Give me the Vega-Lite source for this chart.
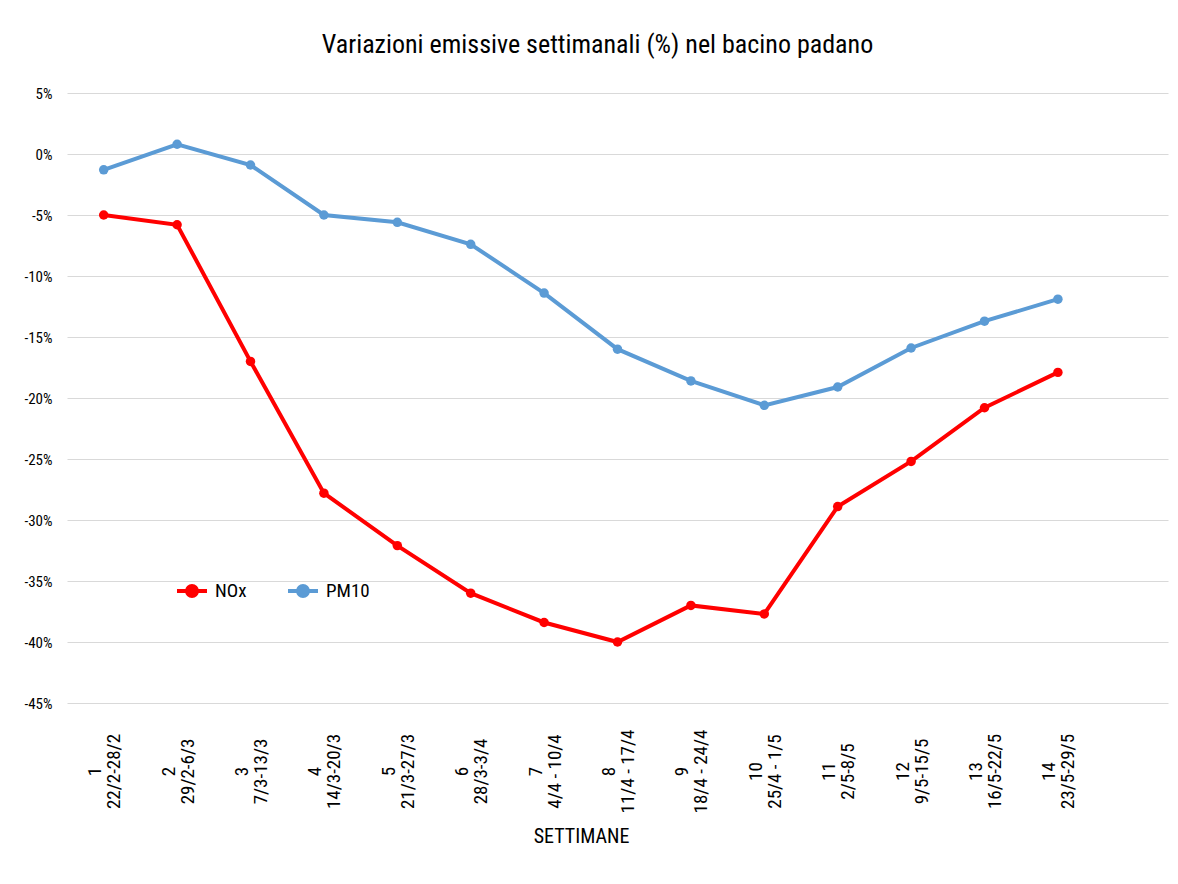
{
  "$schema": "https://vega.github.io/schema/vega-lite/v6.json",
  "width": 1101,
  "height": 610,
  "autosize": {"type": "none"},
  "padding": {"left": 67, "top": 93, "right": 10, "bottom": 181},
  "background": "white",
  "title": {
    "text": "Variazioni emissive settimanali (%) nel bacino padano",
    "fontSize": 26,
    "font": "Liberation Sans Narrow, Roboto Condensed, Open Sans",
    "fontWeight": "normal",
    "color": "#000000",
    "anchor": "middle",
    "dx": -20,
    "offset": 28
  },
  "data": {
    "values": [
      {"settimana": "1|22/2-28/2", "serie": "NOx", "valore": -5.0},
      {"settimana": "2|29/2-6/3", "serie": "NOx", "valore": -5.8},
      {"settimana": "3|7/3-13/3", "serie": "NOx", "valore": -17.0},
      {"settimana": "4|14/3-20/3", "serie": "NOx", "valore": -27.8},
      {"settimana": "5|21/3-27/3", "serie": "NOx", "valore": -32.1},
      {"settimana": "6|28/3-3/4", "serie": "NOx", "valore": -36.0},
      {"settimana": "7|4/4 - 10/4", "serie": "NOx", "valore": -38.4},
      {"settimana": "8|11/4 - 17/4", "serie": "NOx", "valore": -40.0},
      {"settimana": "9|18/4 - 24/4", "serie": "NOx", "valore": -37.0},
      {"settimana": "10|25/4 - 1/5", "serie": "NOx", "valore": -37.7},
      {"settimana": "11|2/5-8/5", "serie": "NOx", "valore": -28.9},
      {"settimana": "12|9/5-15/5", "serie": "NOx", "valore": -25.2},
      {"settimana": "13|16/5-22/5", "serie": "NOx", "valore": -20.8},
      {"settimana": "14|23/5-29/5", "serie": "NOx", "valore": -17.9},
      {"settimana": "1|22/2-28/2", "serie": "PM10", "valore": -1.3},
      {"settimana": "2|29/2-6/3", "serie": "PM10", "valore": 0.8},
      {"settimana": "3|7/3-13/3", "serie": "PM10", "valore": -0.9},
      {"settimana": "4|14/3-20/3", "serie": "PM10", "valore": -5.0},
      {"settimana": "5|21/3-27/3", "serie": "PM10", "valore": -5.6},
      {"settimana": "6|28/3-3/4", "serie": "PM10", "valore": -7.4},
      {"settimana": "7|4/4 - 10/4", "serie": "PM10", "valore": -11.4},
      {"settimana": "8|11/4 - 17/4", "serie": "PM10", "valore": -16.0},
      {"settimana": "9|18/4 - 24/4", "serie": "PM10", "valore": -18.6},
      {"settimana": "10|25/4 - 1/5", "serie": "PM10", "valore": -20.6},
      {"settimana": "11|2/5-8/5", "serie": "PM10", "valore": -19.1},
      {"settimana": "12|9/5-15/5", "serie": "PM10", "valore": -15.9},
      {"settimana": "13|16/5-22/5", "serie": "PM10", "valore": -13.7},
      {"settimana": "14|23/5-29/5", "serie": "PM10", "valore": -11.9}
    ]
  },
  "encoding": {
    "x": {
      "field": "settimana",
      "type": "ordinal",
      "scale": {
        "type": "point",
        "domain": ["1|22/2-28/2", "2|29/2-6/3", "3|7/3-13/3", "4|14/3-20/3", "5|21/3-27/3", "6|28/3-3/4", "7|4/4 - 10/4", "8|11/4 - 17/4", "9|18/4 - 24/4", "10|25/4 - 1/5", "11|2/5-8/5", "12|9/5-15/5", "13|16/5-22/5", "14|23/5-29/5", "~"],
        "padding": 0.5
      },
      "axis": {
        "title": "SETTIMANE",
        "titleFont": "Liberation Sans Narrow, Roboto Condensed, Open Sans",
        "titleFontSize": 20,
        "titleFontWeight": "normal",
        "titleColor": "#000000",
        "titlePadding": 14,
        "titleX": 514,
        "labelExpr": "datum.value == '~' ? '' : split(datum.value, '|')",
        "labelAngle": -90,
        "labelAlign": "center",
        "labelBaseline": "middle",
        "labelPadding": 68,
        "labelOffset": -9,
        "labelLineHeight": 19,
        "labelFont": "Liberation Sans Narrow, Roboto Condensed, Open Sans",
        "labelFontSize": 19,
        "labelColor": "#000000",
        "ticks": false,
        "domain": false,
        "grid": false
      }
    },
    "y": {
      "field": "valore",
      "type": "quantitative",
      "scale": {"domain": [-45, 5], "nice": false, "zero": false},
      "axis": {
        "title": null,
        "values": [-45, -40, -35, -30, -25, -20, -15, -10, -5, 0, 5],
        "labelExpr": "datum.value + '%'",
        "labelFont": "Liberation Sans Narrow, Roboto Condensed, Open Sans",
        "labelFontSize": 15,
        "labelColor": "#000000",
        "labelPadding": 15,
        "ticks": false,
        "domain": false,
        "grid": true,
        "gridColor": "#d9d9d9",
        "gridWidth": 1.2
      }
    },
    "color": {
      "field": "serie",
      "type": "nominal",
      "scale": {"domain": ["NOx", "PM10"], "range": ["#ff0000", "#5b9bd5"]},
      "legend": {
        "title": null,
        "orient": "none",
        "legendX": 108,
        "legendY": 481,
        "direction": "horizontal",
        "symbolType": "M-1,0L1,0M-0.33,0A0.33,0.33 0 1,0 0.33,0A0.33,0.33 0 1,0 -0.33,0Z",
        "symbolSize": 900,
        "symbolStrokeWidth": 4,
        "labelFont": "Liberation Sans Narrow, Roboto Condensed, Open Sans",
        "labelFontSize": 19,
        "labelColor": "#000000",
        "labelOffset": 6,
        "columnPadding": 33
      }
    }
  },
  "layer": [
    {"mark": {"type": "line", "strokeWidth": 4}},
    {"mark": {"type": "point", "filled": true, "size": 90, "opacity": 1}}
  ],
  "config": {"view": {"stroke": null}}
}
